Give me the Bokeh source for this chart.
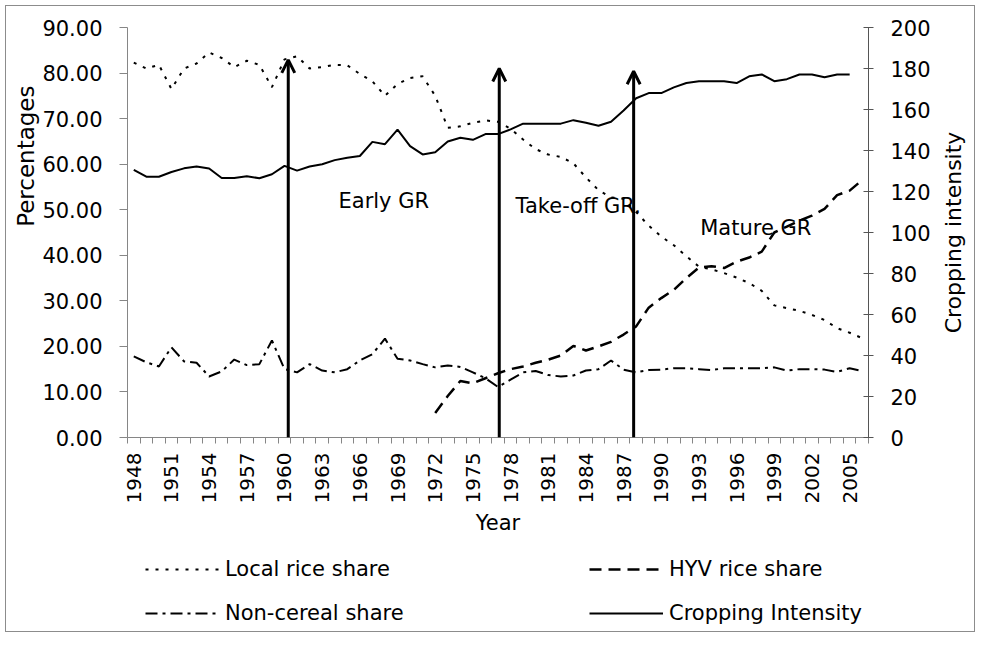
import math
import numpy as np
from bokeh.plotting import figure
from bokeh.layouts import column
from bokeh.models import (ColumnDataSource, Range1d, LinearAxis, FixedTicker, Title,
                          NumeralTickFormatter, Arrow, OpenHead, Label, Legend, LegendItem)
from bokeh.embed import file_html
from bokeh.resources import INLINE

# ---------------- data ----------------
years = [1948, 1949, 1950, 1951, 1952, 1953, 1954, 1955, 1956, 1957,
         1958, 1959, 1960, 1961, 1962, 1963, 1964, 1965, 1966, 1967,
         1968, 1969, 1970, 1971, 1972, 1973, 1974, 1975, 1976, 1977,
         1978, 1979, 1980, 1981, 1982, 1983, 1984, 1985, 1986, 1987,
         1988, 1989, 1990, 1991, 1992, 1993, 1994, 1995, 1996, 1997,
         1998, 1999, 2000, 2001, 2002, 2003, 2004, 2005, 2006]

local_rice = [82.3, 81.0, 81.8, 76.5, 81.0, 82.1, 84.5, 83.3, 81.3, 82.7,
              81.8, 76.9, 83.0, 83.7, 81.0, 81.3, 81.8, 81.7, 79.8, 78.2,
              75.0, 77.6, 78.9, 79.3, 75.0, 68.0, 68.3, 69.1, 69.6, 69.3,
              67.8, 65.4, 63.3, 62.1, 61.6, 60.2, 57.1, 54.3, 52.7, 52.4,
              49.5, 46.5, 44.1, 42.2, 39.8, 37.5, 36.9, 36.1, 35.1, 33.9,
              32.2, 29.0, 28.4, 27.8, 26.9, 25.8, 24.0, 23.0, 21.8]

hyv_rice = [None, None, None, None, None, None, None, None, None, None,
            None, None, None, None, None, None, None, None, None, None,
            None, None, None, None, 5.4, 9.1, 12.4, 11.9, 13.0, 14.1,
            15.0, 15.6, 16.4, 17.1, 18.0, 20.1, 19.1, 20.0, 21.0, 22.6,
            24.4, 28.5, 30.6, 32.4, 35.0, 37.3, 37.6, 37.2, 38.6, 39.5,
            40.8, 45.0, 46.3, 47.6, 48.7, 50.2, 53.2, 54.2, 56.5]

non_cereal = [17.8, 16.5, 15.6, 19.8, 16.7, 16.4, 13.4, 14.5, 17.1, 15.9,
              16.1, 21.3, 15.0, 14.3, 16.1, 14.7, 14.3, 15.0, 16.9, 18.3,
              21.7, 17.3, 16.9, 16.1, 15.4, 15.8, 15.5, 14.3, 13.0, 11.1,
              12.7, 14.3, 14.6, 13.7, 13.4, 13.6, 14.7, 15.0, 16.9, 14.9,
              14.3, 14.8, 14.9, 15.2, 15.2, 15.0, 14.8, 15.2, 15.2, 15.2,
              15.2, 15.4, 14.7, 15.0, 15.0, 14.9, 14.4, 15.2, 14.6]

cropping_intensity = [130.5, 127.2, 127.2, 129.5, 131.3, 132.2, 131.2, 126.6, 126.6, 127.4,
                      126.5, 128.4, 132.5, 130.2, 132.2, 133.3, 135.3, 136.5, 137.3, 144.2,
                      143.1, 150.2, 142.1, 138.1, 139.1, 144.4, 146.2, 145.2, 148.0, 148.0,
                      150.3, 153.1, 153.1, 153.1, 153.1, 154.8, 153.5, 152.1, 154.0, 159.5,
                      165.5, 168.0, 168.0, 170.8, 172.9, 173.8, 173.8, 173.8, 172.9, 176.2,
                      177.1, 173.8, 174.8, 177.1, 177.1, 175.7, 177.1, 177.1, None]

x_label_years = [1948, 1951, 1954, 1957, 1960, 1963, 1966, 1969, 1972, 1975,
                 1978, 1981, 1984, 1987, 1990, 1993, 1996, 1999, 2002, 2005]
pct_ticks = [0, 10, 20, 30, 40, 50, 60, 70, 80, 90]
ci_ticks = [0, 20, 40, 60, 80, 100, 120, 140, 160, 180, 200]

series_names = ["Local rice share", "HYV rice share", "Non-cereal share", "Cropping Intensity"]
series_cols = ["local", "hyv", "noncer", "ci"]

# phase boundaries (arrows) and phase names
phase_years = [1960.3, 1977.1, 1987.8]
phase_arrow_tops = [82.9, 81.0, 80.4]
phase_names = ["Early GR", "Take-off GR.", "Mature GR"]
phase_label_x = [1964.3, 1978.4, 1993.1]
phase_label_y = [52.0, 50.8, 46.0]

# ---------------- styles ----------------
FONT = "DejaVu Sans"
FS = "21px"
GRAY = "#868686"
STYLES = [dict(line_width=2, line_dash="3 7"),
          dict(line_width=2.5, line_dash="12 7"),
          dict(line_width=2, line_dash="12 5 3 5"),
          dict(line_width=2, line_dash="solid")]


def arr(v):
    return np.array([np.nan if a is None else a for a in v], dtype=float)


src = ColumnDataSource(dict(year=years, local=arr(local_rice), hyv=arr(hyv_rice),
                            noncer=arr(non_cereal), ci=arr(cropping_intensity)))

# ---------------- main chart ----------------
p = figure(width=968, height=539, output_backend="svg", toolbar_location=None,
           x_range=Range1d(1947.5, 2006.5), y_range=Range1d(0, 90),
           min_border_left=121, min_border_right=106, min_border_top=21,
           min_border_bottom=108)
p.extra_y_ranges = {"ci": Range1d(0, 200)}
p.outline_line_color = None
p.xgrid.visible = False
p.ygrid.visible = False
p.background_fill_color = "white"
p.border_fill_color = "white"

for col, st in zip(series_cols, STYLES):
    if col == "ci":
        p.line("year", col, source=src, line_color="black", y_range_name="ci", **st)
    else:
        p.line("year", col, source=src, line_color="black", **st)

# x axis
xa = p.xaxis[0]
xa.ticker = FixedTicker(ticks=x_label_years,
                        minor_ticks=[y - 0.5 for y in years] + [years[-1] + 0.5])
xa.major_tick_line_color = None
xa.major_tick_out = 6
xa.minor_tick_out = 6
xa.minor_tick_in = 0
xa.minor_tick_line_color = GRAY
xa.axis_line_color = GRAY
xa.major_label_orientation = math.pi / 2
xa.major_label_standoff = 9
xa.major_label_text_font = FONT
xa.major_label_text_font_size = "20px"
xa.major_label_text_color = "black"
xa.axis_label = "Year"
xa.axis_label_text_font = FONT
xa.axis_label_text_font_size = FS
xa.axis_label_text_font_style = "normal"
xa.axis_label_text_color = "black"
xa.axis_label_standoff = 5

# left axis
ya = p.yaxis[0]
ya.ticker = FixedTicker(ticks=pct_ticks)
ya.formatter = NumeralTickFormatter(format="0.00")
ya.major_tick_out = 8
ya.major_tick_in = 0
ya.minor_tick_line_color = None
ya.axis_line_color = GRAY
ya.major_tick_line_color = GRAY
ya.major_label_standoff = 17
ya.major_label_text_font = FONT
ya.major_label_text_font_size = FS
ya.major_label_text_color = "black"

p.add_layout(Title(text="Percentages", align="right", offset=58, standoff=2,
                   text_font=FONT, text_font_size="23px", text_font_style="normal",
                   text_color="black"), "left")

# right axis
ra = LinearAxis(y_range_name="ci", ticker=FixedTicker(ticks=ci_ticks))
ra.major_tick_out = 5
ra.major_tick_in = 5
ra.minor_tick_line_color = None
ra.axis_line_color = "#555555"
ra.major_tick_line_color = "#555555"
ra.major_label_standoff = 17
ra.major_label_text_font = FONT
ra.major_label_text_font_size = FS
ra.major_label_text_color = "black"
p.add_layout(ra, "right")

# right axis title, centred on the axis and reading upwards
p.add_layout(Label(x=2013.3, y=100, y_range_name="ci", text="Cropping intensity",
                   angle=math.pi / 2, text_align="center", text_baseline="middle",
                   text_font=FONT, text_font_size="22px", text_color="black"), "right")

# phase arrows and names
for xv, top in zip(phase_years, phase_arrow_tops):
    p.add_layout(Arrow(end=OpenHead(size=13, line_width=3, line_color="black"),
                       x_start=xv, y_start=0, x_end=xv, y_end=top,
                       line_color="black", line_width=3))
for name, lx, ly in zip(phase_names, phase_label_x, phase_label_y):
    p.add_layout(Label(x=lx, y=ly, text=name, text_align="left", text_baseline="middle",
                       text_font=FONT, text_font_size=FS, text_color="black"))

# ---------------- legend strip ----------------
lp = figure(width=968, height=86, output_backend="svg", toolbar_location=None,
            x_range=Range1d(0, 1), y_range=Range1d(0, 1),
            min_border=0, min_border_left=0, min_border_right=0,
            min_border_top=0, min_border_bottom=0)
lp.xaxis.visible = False
lp.yaxis.visible = False
lp.grid.visible = False
lp.outline_line_color = None
lp.border_fill_color = "white"

items = []
for name, col, st in zip(series_names, series_cols, STYLES):
    r = lp.line("year", col, source=src, line_color="black", **st)
    items.append(LegendItem(label=name, renderers=[r]))

legend = Legend(items=items, orientation="horizontal", ncols=2,
                location=(18, -2), glyph_width=74, glyph_height=40, label_height=40,
                label_standoff=6, label_width=360, spacing=4, padding=0, margin=0,
                border_line_color=None, background_fill_alpha=0,
                label_text_font=FONT, label_text_font_size=FS, label_text_color="black")
lp.add_layout(legend, "center")

layout = column(p, lp, spacing=0)
layout.styles = {"border": "1px solid #8c8c8c", "margin": "5px"}

open("out.html", "w").write(file_html(layout, INLINE))
